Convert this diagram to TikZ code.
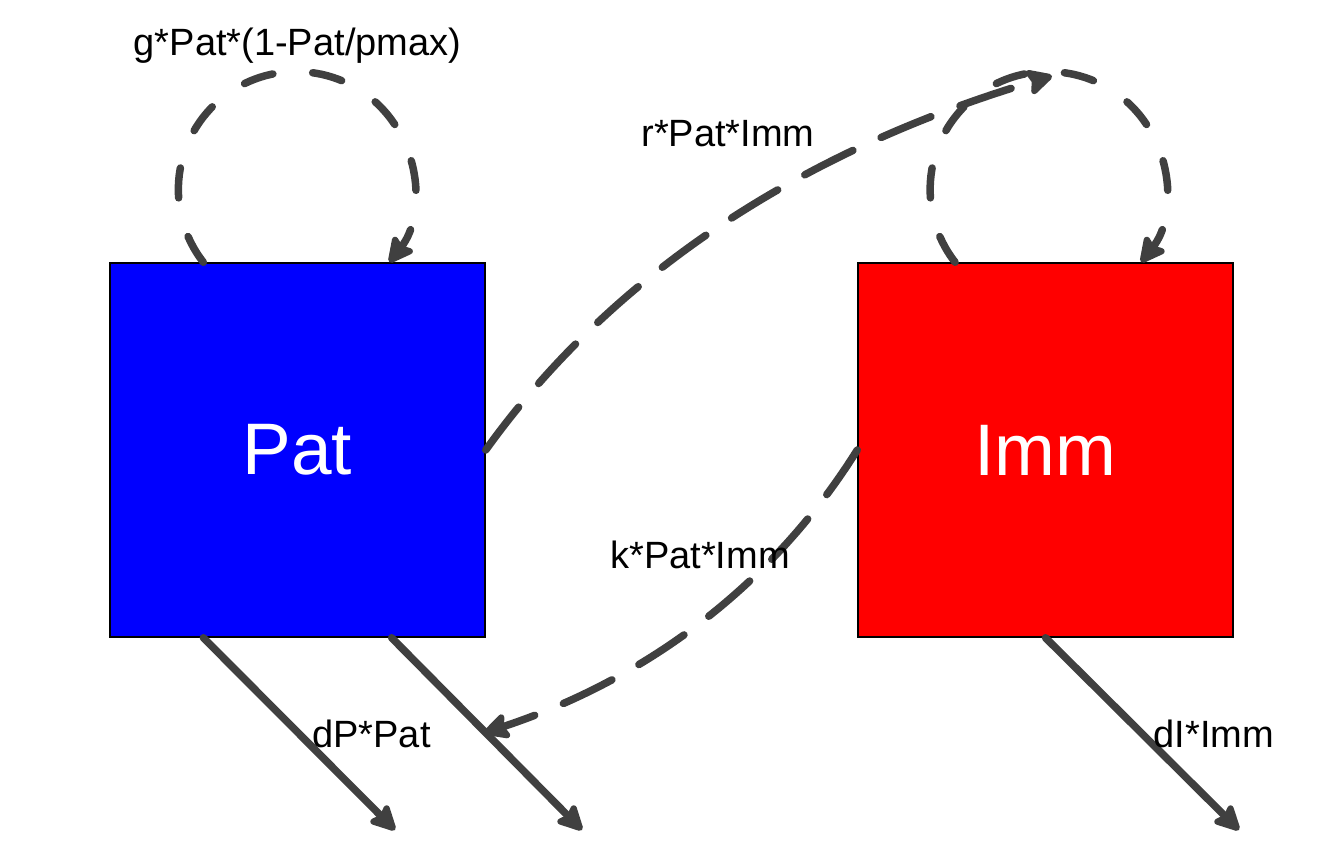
\documentclass[tikz,border=0pt]{standalone}
\usepackage{fontspec}
\setmainfont{Liberation Sans}
\usetikzlibrary{arrows.meta,calc}
\definecolor{flow}{RGB}{64,64,64}
\begin{document}
\begin{tikzpicture}[x=1pt,y=-1pt,
  compartment/.style={draw=black, line width=1.5pt, minimum width=375pt, minimum height=374pt, inner sep=0pt, text=white, font=\fontsize{73}{80}\selectfont},
  flowline/.style={draw=flow, line width=7.5pt, line cap=round, -{Stealth[length=30pt,width=30pt,inset=5pt,round]}},
  loopline/.style={flowline, dash pattern=on 30pt off 40pt},
  linkline/.style={flowline, dash pattern=on 54pt off 31pt},
  lab/.style={font=\fontsize{38}{40}\selectfont, anchor=base, inner sep=0pt}]
\useasboundingbox (0,0) rectangle (1344,865);
\node[compartment, fill={rgb,255:red,0;green,0;blue,255}] (pat) at (297.5,450) {Pat};
\node[compartment, fill={rgb,255:red,255;green,0;blue,0}] (imm) at (1045.5,450) {Imm};
% self loops
\coordinate (ps) at ($(pat.north west)!0.25!(pat.north east)$);
\coordinate (is) at ($(imm.north west)!0.26!(imm.north east)$);
\draw[loopline] (ps) arc[start angle=142, end angle=398, radius=118];
\draw[loopline] (is) arc[start angle=142, end angle=398, radius=118];
% interactions
\coordinate (rt) at (1052,76);
\coordinate (kt) at (484,733);
\draw[linkline] (pat.east) .. controls (610,277) and (797,152) .. (rt);
\draw[linkline] (imm.west) .. controls (774,583) and (650,678) .. (kt);
% outflows
\coordinate (o1) at (395,830);
\coordinate (o2) at (582,830);
\coordinate (o3) at (1239,830);
\draw[flowline] ($(pat.south west)!0.25!(pat.south east)$) -- (o1);
\draw[flowline] ($(pat.south west)!0.75!(pat.south east)$) -- (o2);
\draw[flowline] (imm.south) -- (o3);
% labels
\node[lab] (lg) at (297.5,55) {g*Pat*(1-Pat/pmax)};
\node[lab] (lr) at (728,146) {r*Pat*Imm};
\node[lab] (lk) at (700,568) {k*Pat*Imm};
\node[lab] (ldp) at (371.5,747) {dP*Pat};
\node[lab] (ldi) at (1214,747) {dI*Imm};
\end{tikzpicture}
\end{document}
